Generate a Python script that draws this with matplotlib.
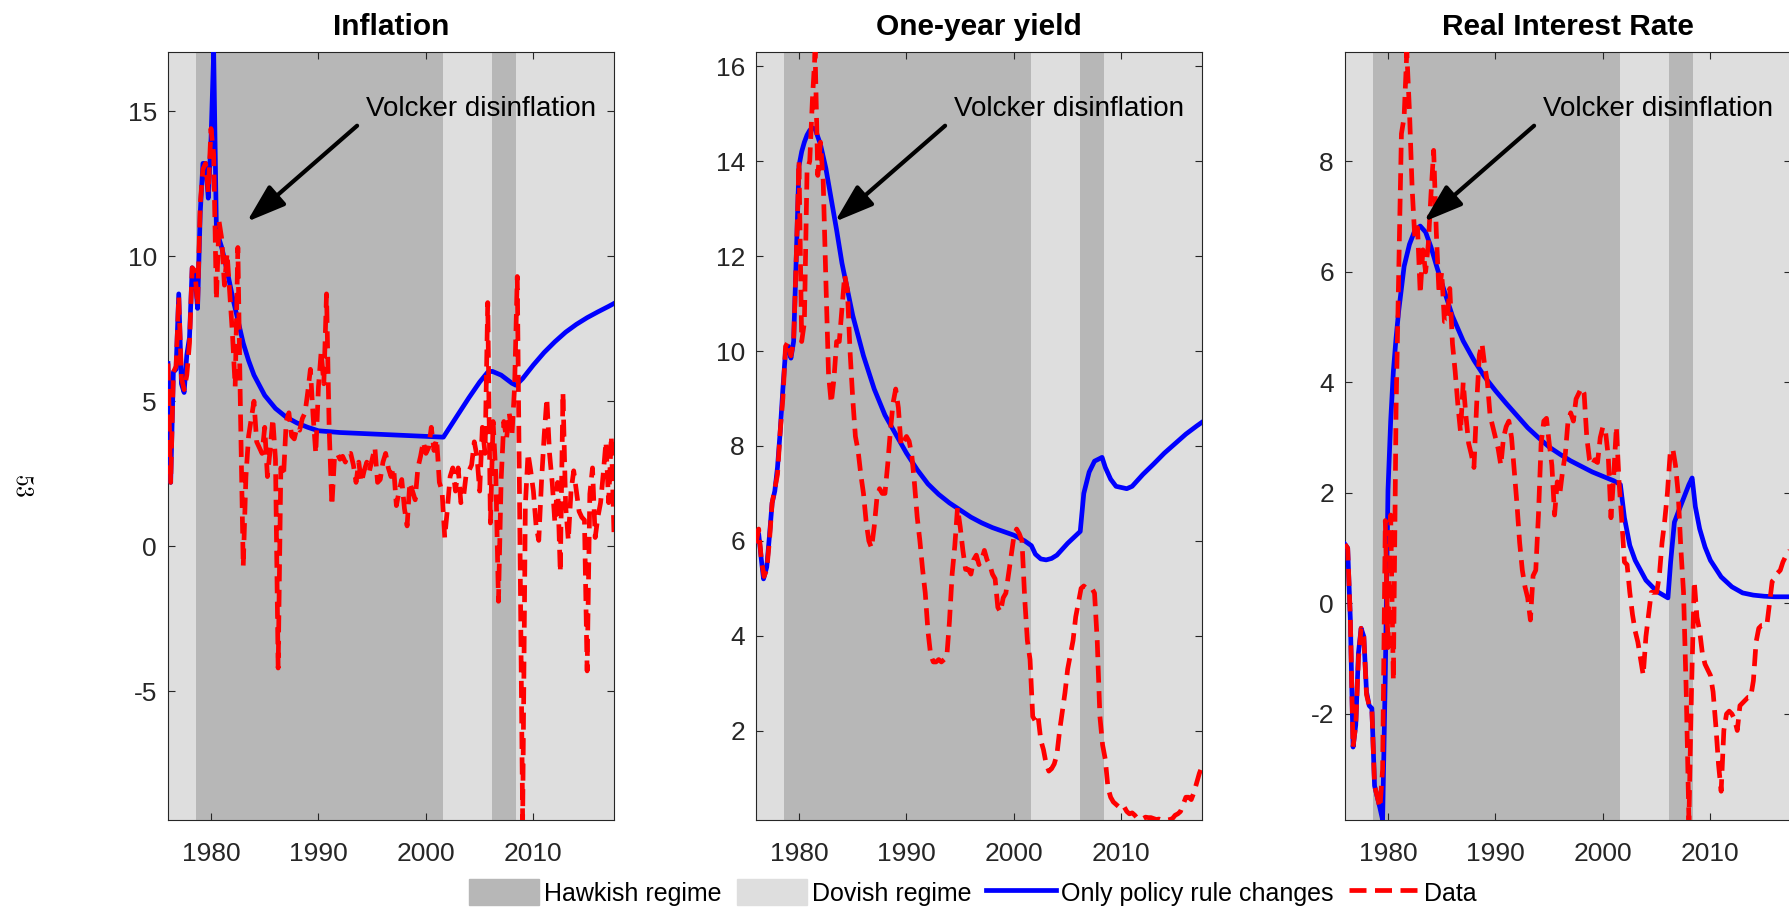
import numpy as np
import matplotlib
matplotlib.use("Agg")
import matplotlib.pyplot as plt
import matplotlib.patches as mpatches
from matplotlib.lines import Line2D

plt.rcParams["font.family"] = ["Liberation Sans", "DejaVu Sans"]
plt.rcParams["axes.unicode_minus"] = False

# ── Data ──────────────────────────────────────────────────────────────────────

# quarterly dates, 1976Q1 .. 2017Q3
QUARTERS = np.arange(1976.0, 2017.51, 0.25)

# regime switches (start, end, hawkish?)
REGIMES = [
    (1976.0,   1978.625, False),
    (1978.625, 2001.625, True),
    (2001.625, 2006.17,  False),
    (2006.17,  2008.375, True),
    (2008.375, 2017.5,   False),
]

TITLES = ["Inflation", "One-year yield", "Real Interest Rate"]

YTICKS = [
    [-5, 0, 5, 10, 15],
    [2, 4, 6, 8, 10, 12, 14, 16],
    [-2, 0, 2, 4, 6, 8],
]
XTICKS = [1980, 1990, 2000, 2010]

infl_data = [
    6.3, 2.2, 6.0, 6.2,      # 1976
    8.6, 5.8, 5.4, 5.9,
    7.0, 9.6, 9.5, 8.3,
    11.8, 13.0, 13.2, 12.2,
    14.4, 13.5, 8.5, 11.2,   # 1980
    10.6, 9.0, 10.1, 8.7,
    7.3, 5.5, 10.3, 4.5,
    -0.7, 2.4, 3.8, 4.4,
    5.0, 3.6, 3.4, 3.2,
    4.1, 2.4, 3.3, 4.4,
    3.0, -4.2, 2.7, 2.4,
    4.3, 4.6, 3.8, 3.7,
    4.1, 4.0, 4.4, 4.6,
    5.3, 6.1, 4.5, 3.2,
    5.5, 6.7, 5.6, 8.7,      # 1990
    4.0, 1.4, 3.1, 3.2,
    3.0, 3.1, 2.9, 3.2,
    3.2, 2.8, 2.2, 2.9,
    2.2, 2.6, 2.9, 2.6,
    3.0, 3.4, 2.2, 2.3,
    2.9, 3.2, 2.7, 2.4,
    2.7, 1.4, 1.9, 2.3,
    1.3, 0.7, 2.2, 1.9,
    1.6, 2.7, 3.1, 3.6,
    3.2, 3.4, 4.1, 3.3,      # 2000
    3.7, 2.2, 1.9, 0.3,
    1.3, 2.4, 2.7, 1.9,
    2.7, 1.5, 1.7, 2.5,
    2.6, 2.8, 3.6, 3.1,
    1.9, 4.1, 3.2, 8.4,
    0.8, 4.3, 2.5, -1.9,
    2.3, 4.3, 3.7, 4.6,
    3.8, 5.5, 9.3, 0.2,
    -9.44, 1.4, 3.2, 2.6,
    1.9, 0.7, 0.2, 2.2,      # 2010
    3.8, 5.1, 3.2, 2.2,
    0.8, 2.2, -0.9, 5.3,
    1.4, 0.2, 1.9, 2.6,
    1.9, 1.2, 1.0, 0.9,
    -4.3, 1.8, 2.7, 0.3,
    1.0, 1.5, 2.5, 3.6,
    1.5, 3.8, 0.4,           # 2017
]

infl_model = [
    (1976.0, 6.3), (1976.25, 2.2), (1976.5, 6.0), (1976.75, 6.1),
    (1977.0, 8.7), (1977.25, 5.6), (1977.5, 5.3), (1977.75, 6.6),
    (1978.0, 7.2), (1978.25, 9.6), (1978.5, 9.4), (1978.75, 8.2),
    (1979.0, 11.5), (1979.25, 13.2), (1979.5, 13.2), (1979.75, 12.0),
    (1980.0, 14.0), (1980.25, 17.04), (1980.5, 11.0), (1980.75, 10.6),
    (1981.0, 10.3), (1981.25, 9.9), (1981.5, 9.5), (1982.0, 8.6),
    (1982.5, 7.8), (1983.0, 7.0), (1983.5, 6.4), (1984.0, 5.9),
    (1985.0, 5.2), (1986.0, 4.75), (1987.0, 4.45), (1988.0, 4.25),
    (1989.0, 4.1), (1990.0, 3.98), (1992.0, 3.92), (1995.0, 3.87),
    (1998.0, 3.82), (2001.625, 3.76), (2003.0, 4.55), (2004.0, 5.12),
    (2005.0, 5.66), (2005.75, 6.0), (2006.17, 6.03), (2007.0, 5.9),
    (2008.0, 5.62), (2008.375, 5.55), (2009.0, 5.78), (2010.0, 6.25),
    (2011.0, 6.68), (2012.0, 7.05), (2013.0, 7.38), (2014.0, 7.65),
    (2015.0, 7.88), (2016.0, 8.08), (2017.0, 8.27), (2017.5, 8.37),
]

yield_data = [
    5.95, 6.25, 5.6, 5.25,   # 1976
    5.4, 6.0, 6.8, 7.1,
    7.4, 8.3, 9.0, 10.1,
    10.2, 9.9, 10.2, 12.0,
    14.0, 10.2, 10.6, 13.8,  # 1980
    14.0, 15.3, 16.3, 13.7,
    14.4, 13.6, 11.5, 9.5,
    8.9, 9.4, 10.2, 10.2,
    10.9, 11.6, 11.3, 10.0,
    9.0, 8.2, 7.9, 7.4,
    7.0, 6.4, 6.0, 5.85,
    6.3, 6.9, 7.1, 7.0,
    7.0, 7.6, 8.3, 8.9,
    9.2, 8.8, 8.0, 8.1,
    8.2, 8.1, 7.8, 7.2,      # 1990
    6.5, 6.0, 5.4, 4.9,
    4.1, 3.6, 3.45, 3.45,
    3.5, 3.45, 3.5, 3.55,
    4.3, 5.3, 5.9, 6.7,
    6.3, 5.8, 5.4, 5.4,
    5.3, 5.6, 5.7, 5.5,
    5.6, 5.8, 5.6, 5.5,
    5.3, 5.2, 4.6, 4.5,
    4.8, 4.9, 5.3, 5.7,
    6.1, 6.25, 6.15, 6.0,    # 2000
    4.8, 3.9, 3.5, 2.3,
    2.2, 2.3, 1.8, 1.6,
    1.3, 1.15, 1.2, 1.3,
    1.5, 2.0, 2.4, 2.8,
    3.3, 3.6, 3.9, 4.4,
    4.7, 5.0, 5.05, 5.0,
    5.0, 5.0, 4.9, 3.9,
    2.3, 1.7, 1.4, 0.8,
    0.6, 0.5, 0.45, 0.4,
    0.35, 0.4, 0.3, 0.25,    # 2010
    0.27, 0.22, 0.15, 0.13,
    0.15, 0.18, 0.17, 0.17,
    0.15, 0.13, 0.14, 0.12,
    0.12, 0.12, 0.13, 0.15,
    0.22, 0.25, 0.3, 0.45,
    0.6, 0.6, 0.55, 0.7,
    0.9, 1.1, 1.25,          # 2017
]

yield_model = [
    (1976.0, 6.0), (1976.25, 6.15), (1976.5, 5.6), (1976.7, 5.2),
    (1977.0, 5.45), (1977.25, 6.1), (1977.5, 6.8), (1977.75, 7.05),
    (1978.0, 7.55), (1978.25, 8.3), (1978.5, 9.2), (1978.75, 10.0),
    (1979.0, 10.1), (1979.25, 9.85), (1979.5, 10.2), (1979.75, 12.0),
    (1980.0, 13.9), (1980.25, 14.2), (1980.5, 14.4), (1980.75, 14.55),
    (1981.0, 14.65), (1981.25, 14.7), (1981.5, 14.68), (1982.0, 14.35),
    (1982.5, 13.85), (1983.0, 13.2), (1983.5, 12.55), (1984.0, 11.85),
    (1984.5, 11.3), (1985.0, 10.75), (1986.0, 9.9), (1987.0, 9.2),
    (1988.0, 8.65), (1989.0, 8.25), (1990.0, 7.85), (1991.0, 7.5),
    (1992.0, 7.2), (1993.0, 6.98), (1994.0, 6.8), (1995.0, 6.65),
    (1996.0, 6.5), (1997.0, 6.38), (1998.0, 6.28), (1999.0, 6.2),
    (2000.0, 6.12), (2001.0, 6.0), (2001.625, 5.9), (2002.0, 5.72),
    (2002.5, 5.62), (2003.0, 5.6), (2003.5, 5.63), (2004.0, 5.7),
    (2005.0, 5.95), (2006.17, 6.2), (2006.5, 7.0), (2007.0, 7.45),
    (2007.5, 7.68), (2008.2, 7.76), (2008.5, 7.55), (2009.0, 7.3),
    (2009.5, 7.15), (2010.5, 7.1), (2011.0, 7.15), (2012.0, 7.4),
    (2013.0, 7.62), (2014.0, 7.85), (2015.0, 8.05), (2016.0, 8.25),
    (2017.0, 8.42), (2017.5, 8.5),
]

real_data = [
    1.07, 1.0, -0.3, -2.6,   # 1976
    -2.2, -1.0, -0.45, -0.6,
    -1.65, -1.85, -1.9, -3.3,
    -3.5, -3.7, -3.0, 1.5,
    -0.8, 1.6, -1.4, 3.5,    # 1980
    6.0, 8.5, 8.8, 9.98,
    8.9, 7.5, 6.6, 6.8,
    5.6, 6.4, 6.0, 6.5,
    7.4, 8.2, 6.7, 5.6,
    6.0, 5.1, 5.1, 5.7,
    4.7, 4.2, 3.6, 3.1,
    4.0, 3.4, 2.9, 2.7,
    2.46, 3.6, 4.5, 4.7,
    4.3, 4.0, 3.4, 3.2,
    3.0, 2.8, 2.5, 3.0,      # 1990
    3.2, 3.3, 3.0, 2.4,
    1.8, 1.1, 0.6, 0.3,
    0.1, -0.3, 0.5, 0.6,
    1.6, 2.9, 3.3, 3.35,
    2.9, 2.5, 1.6, 2.2,
    2.0, 2.4, 2.7, 3.3,
    3.45, 3.3, 3.7, 3.8,
    3.9, 3.8, 3.0, 2.6,
    2.5, 2.6, 2.55, 3.0,
    3.2, 3.1, 2.65, 1.55,    # 2000
    2.3, 3.2, 2.2, 1.5,
    0.75, 0.7, 0.2, -0.2,
    -0.5, -0.7, -1.0, -1.3,
    -0.6, -0.2, 0.2, 0.2,
    0.2, 0.5, 1.1, 1.5,
    2.0, 2.7, 2.8, 2.5,
    2.0, 1.0, 0.2, -1.6,
    -3.92, -1.5, 0.4, -0.25,
    -0.5, -0.9, -1.1, -1.2,
    -1.3, -1.6, -2.2, -2.9,  # 2010
    -3.4, -2.3, -2.0, -1.95,
    -2.0, -2.1, -2.3, -1.85,
    -1.8, -1.75, -1.7, -1.7,
    -1.4, -0.7, -0.45, -0.4,
    -0.4, -0.4, 0.0, 0.4,
    0.45, 0.55, 0.6, 0.75,
    0.85, 0.9, 1.0,          # 2017
]

real_model = [
    (1976.0, 1.07), (1976.25, 1.0), (1976.5, -0.3), (1976.75, -2.6),
    (1977.0, -2.2), (1977.25, -0.9), (1977.5, -0.45), (1977.75, -0.6),
    (1978.0, -1.6), (1978.25, -1.85), (1978.5, -1.9), (1978.75, -3.3),
    (1979.0, -3.5), (1979.25, -3.7), (1979.5, -3.92), (1979.75, -1.3),
    (1980.0, 2.05), (1980.25, 3.3), (1980.5, 4.2), (1980.75, 4.8),
    (1981.0, 5.3), (1981.5, 6.1), (1982.0, 6.5), (1982.5, 6.75),
    (1983.0, 6.83), (1983.5, 6.72), (1984.0, 6.45), (1984.5, 6.12),
    (1985.0, 5.8), (1986.0, 5.2), (1987.0, 4.75), (1988.0, 4.4),
    (1989.0, 4.1), (1990.0, 3.85), (1991.0, 3.62), (1992.0, 3.4),
    (1993.0, 3.18), (1994.0, 3.0), (1995.0, 2.83), (1996.0, 2.7),
    (1997.0, 2.58), (1998.0, 2.48), (1999.0, 2.38), (2000.0, 2.3),
    (2001.0, 2.22), (2001.625, 2.15), (2002.0, 1.55), (2002.5, 1.05),
    (2003.0, 0.78), (2004.0, 0.42), (2005.0, 0.22), (2006.05, 0.1),
    (2006.3, 0.75), (2006.65, 1.47), (2007.0, 1.65), (2007.5, 1.9),
    (2008.0, 2.15), (2008.3, 2.27), (2008.6, 1.75), (2009.0, 1.35),
    (2009.5, 1.02), (2010.0, 0.78), (2011.0, 0.48), (2012.0, 0.3),
    (2013.0, 0.19), (2014.0, 0.15), (2015.0, 0.13), (2016.0, 0.12),
    (2017.5, 0.12),
]

# ── Styles ────────────────────────────────────────────────────────────────────

STYLE = {
    "hawkish":   "#b7b7b7",
    "dovish":    "#dedede",
    "model":     "#0000ff",
    "data":      "#ff0000",
    "axis":      "#262626",
    "lw":        3.4,
    "dashes":    (0, (3.6, 1.8)),
}

FIG_W, FIG_H = 1790, 909
AX_LEFTS = [168, 756, 1345]          # pixels
AX_BOTTOM, AX_TOP, AX_W = 820, 52, 446


# ── Helpers ───────────────────────────────────────────────────────────────────

def _shade_regimes(ax):
    for start, end, hawkish in REGIMES:
        ax.axvspan(start, end, color=STYLE["hawkish"] if hawkish else STYLE["dovish"],
                   lw=0, zorder=0)


def _draw_series(ax, model, data):
    mx, my = zip(*model)
    ax.plot(mx, my, color=STYLE["model"], lw=STYLE["lw"], zorder=3,
            solid_joinstyle="round")
    ax.plot(QUARTERS, data, color=STYLE["data"], lw=STYLE["lw"],
            linestyle=STYLE["dashes"], zorder=4)

    ys = np.concatenate([my, data])
    ax.set_xlim(QUARTERS[0], QUARTERS[-1])
    ax.set_ylim(ys.min(), ys.max())


def _style_axis(ax, title, yticks):
    ax.set_xticks(XTICKS)
    ax.set_yticks(yticks)
    ax.tick_params(direction="in", top=True, right=True, length=5, width=0.8,
                   colors=STYLE["axis"], labelsize=19)
    ax.tick_params(axis="x", pad=16)
    ax.tick_params(axis="y", pad=8)
    for sp in ax.spines.values():
        sp.set_color(STYLE["axis"])
        sp.set_linewidth(0.8)
    ax.set_title(title, fontsize=21.5, fontweight="bold", pad=12)


def _annotate_volcker(ax):
    ax.annotate("", xy=(0.177, 0.779), xytext=(0.424, 0.904),
                xycoords="axes fraction", textcoords="axes fraction",
                arrowprops=dict(arrowstyle="-|>,head_length=0.95,head_width=0.32",
                                lw=3.0, color="black", mutation_scale=25,
                                shrinkA=0, shrinkB=0), zorder=6)
    ax.text(0.444, 0.926, "Volcker disinflation", transform=ax.transAxes,
            fontsize=20, ha="left", va="center", zorder=6)


def _draw_legend(fig):
    handles = [
        mpatches.Patch(color=STYLE["hawkish"], label="Hawkish regime"),
        mpatches.Patch(color=STYLE["dovish"], label="Dovish regime"),
        Line2D([0], [0], color=STYLE["model"], lw=STYLE["lw"],
               label="Only policy rule changes"),
        Line2D([0], [0], color=STYLE["data"], lw=STYLE["lw"],
               linestyle=STYLE["dashes"], label="Data"),
    ]
    fig.legend(handles=handles, loc="center", ncol=4, frameon=False,
               bbox_to_anchor=(973 / FIG_W, 16.5 / FIG_H), fontsize=18,
               handlelength=2.8, handleheight=1.2, handletextpad=0.2,
               columnspacing=0.6, borderpad=0, borderaxespad=0)


# ── Figure ────────────────────────────────────────────────────────────────────

fig = plt.figure(figsize=(FIG_W / 100, FIG_H / 100), dpi=100)

panels = [(infl_model, infl_data), (yield_model, yield_data), (real_model, real_data)]

for left, title, yticks, (model, data) in zip(AX_LEFTS, TITLES, YTICKS, panels):
    ax = fig.add_axes([left / FIG_W, 1 - AX_BOTTOM / FIG_H,
                       AX_W / FIG_W, (AX_BOTTOM - AX_TOP) / FIG_H])
    _shade_regimes(ax)
    _draw_series(ax, model, data)
    _style_axis(ax, title, yticks)
    _annotate_volcker(ax)

_draw_legend(fig)

# page number from the source document
fig.text(23 / FIG_W, 1 - 485 / FIG_H, r"$53$", rotation=-90, fontsize=17,
         math_fontfamily="cm", ha="center", va="center")

fig.savefig("out.png", dpi=100)
plt.close(fig)
